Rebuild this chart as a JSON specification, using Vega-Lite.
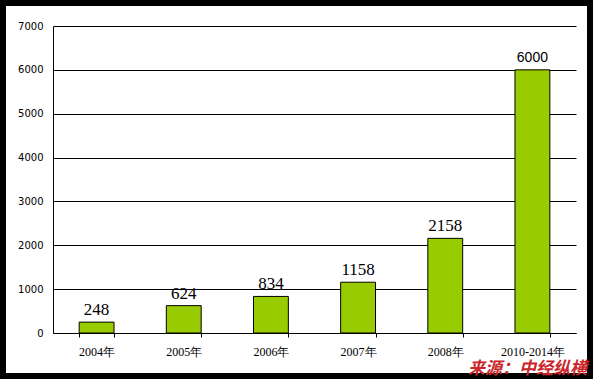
{
  "$schema": "https://vega.github.io/schema/vega-lite/v6.json",
  "width": 593,
  "height": 379,
  "autosize": {"type": "none"},
  "padding": 0,
  "background": "white",
  "title": {
    "text": "来源：中经纵横",
    "orient": "bottom",
    "anchor": "end",
    "frame": "group",
    "color": "#C8262B",
    "font": "Noto Sans CJK SC",
    "fontSize": 17,
    "fontWeight": "bold",
    "fontStyle": "italic",
    "baseline": "alphabetic",
    "offset": -5,
    "dx": -6
  },
  "data": {
    "values": [
      {"year": "2004年", "value": 248},
      {"year": "2005年", "value": 624},
      {"year": "2006年", "value": 834},
      {"year": "2007年", "value": 1158},
      {"year": "2008年", "value": 2158},
      {"year": "2010-2014年", "value": 6000}
    ]
  },
  "encoding": {
    "x": {
      "field": "year",
      "type": "nominal",
      "sort": null,
      "scale": {"range": [53, 576], "paddingInner": 0.6, "paddingOuter": 0.3},
      "axis": {
        "title": null,
        "orient": "bottom",
        "offset": -46,
        "labelAngle": 0,
        "labelFont": "Liberation Serif",
        "labelFontSize": 12,
        "labelColor": "#000",
        "labelPadding": 9,
        "tickBand": "extent",
        "tickSize": 4,
        "tickColor": "#000",
        "domainColor": "#000",
        "domainWidth": 1,
        "grid": false
      }
    },
    "y": {
      "field": "value",
      "type": "quantitative",
      "scale": {"domain": [0, 7000], "range": [333, 26], "nice": false, "zero": true},
      "axis": {
        "title": null,
        "offset": -53,
        "values": [0, 1000, 2000, 3000, 4000, 5000, 6000, 7000],
        "format": "d",
        "ticks": false,
        "tickSize": 0,
        "labelPadding": 10,
        "labelFont": "DejaVu Sans",
        "labelFontSize": 10,
        "labelColor": "#000",
        "domainColor": "#000",
        "grid": true,
        "gridColor": "#000",
        "gridOpacity": 1,
        "gridWidth": 1
      }
    }
  },
  "layer": [
    {
      "mark": {"type": "bar", "fill": "#99CC00", "stroke": "#000", "strokeWidth": 1}
    },
    {
      "transform": [{"filter": "datum.year !== '2010-2014年'"}],
      "mark": {"type": "text", "font": "Liberation Serif", "fontSize": 17, "baseline": "alphabetic", "dy": -7, "color": "#000"},
      "encoding": {"text": {"field": "value", "type": "quantitative", "format": "d"}}
    },
    {
      "transform": [{"filter": "datum.year === '2010-2014年'"}],
      "mark": {"type": "text", "font": "Liberation Sans", "fontSize": 14, "baseline": "alphabetic", "dy": -8, "color": "#000"},
      "encoding": {"text": {"field": "value", "type": "quantitative", "format": "d"}}
    }
  ],
  "config": {
    "view": {"stroke": "#000", "strokeWidth": 12, "fill": "white"}
  }
}
